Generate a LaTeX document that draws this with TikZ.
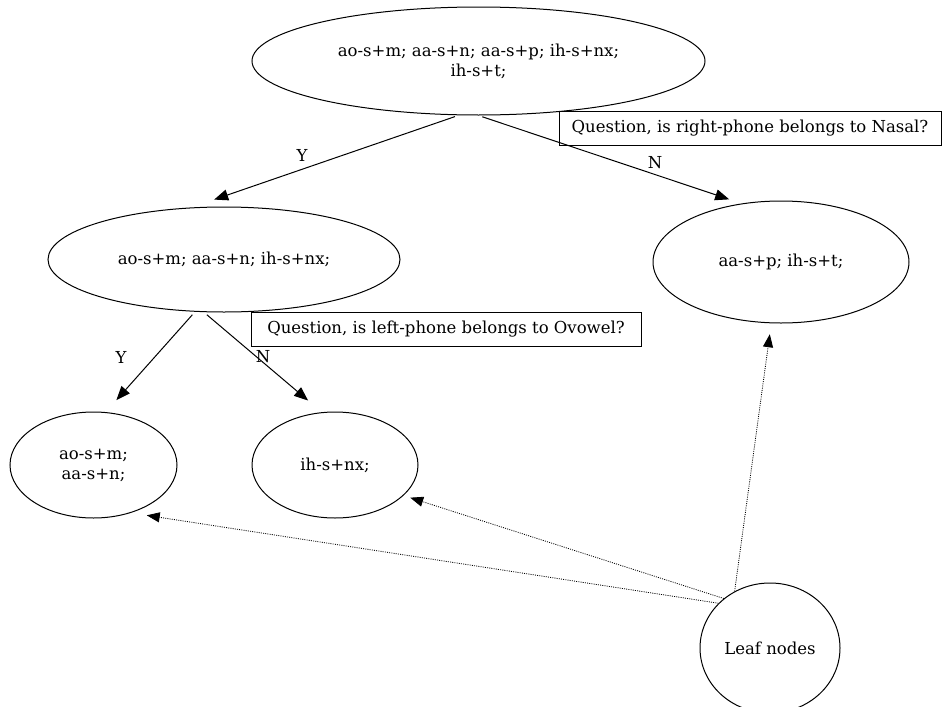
\documentclass[tikz,border=0pt]{standalone}
\usepackage{fontspec}
\setmainfont{DejaVu Serif}
\usetikzlibrary{arrows.meta,shapes.geometric}
\begin{document}
\begin{tikzpicture}[x=1pt,y=-1pt,
  every node/.style={font=\fontsize{16.5}{20}\selectfont},
  tnode/.style={draw,ellipse,line width=1pt,inner sep=0pt,align=center},
  qbox/.style={draw,rectangle,line width=1pt,inner sep=0pt},
  yes/.style={-{Triangle[length=14pt,width=11pt]},line width=1pt,shorten <=4pt},
  leafarrow/.style={-{Triangle[length=13pt,width=10pt]},line width=0.8pt,dash pattern=on 1pt off 1.2pt},
  lbl/.style={inner sep=0pt}]
\useasboundingbox (0,0) rectangle (943,707);

% tree nodes
\node[tnode,minimum width=453pt,minimum height=108pt] (top) at (478.5,61)
  {ao-s+m; aa-s+n; aa-s+p; ih-s+nx;\\ih-s+t;};
\node[tnode,minimum width=352pt,minimum height=105pt] (midl) at (224,259.5)
  {ao-s+m; aa-s+n; ih-s+nx;};
\node[tnode,minimum width=256pt,minimum height=122pt] (right) at (781,262)
  {aa-s+p; ih-s+t;};
\node[tnode,minimum width=167pt,minimum height=106pt] (bl) at (93.5,465)
  {ao-s+m;\\aa-s+n;};
\node[tnode,minimum width=166pt,minimum height=106pt] (bm) at (335,465)
  {ih-s+nx;};
\node[tnode,minimum width=140pt,minimum height=130pt] (leaf) at (770,648)
  {Leaf nodes};

% question boxes
\node[qbox,minimum width=382pt,minimum height=34pt] (q1) at (750,128)
  {Question, is right-phone belongs to Nasal?};
\node[qbox,minimum width=390pt,minimum height=34pt] (q2) at (446,329)
  {Question, is left-phone belongs to Ovowel?};

% decision edges
\draw[yes,shorten >=24pt] (top.250) -- (midl.122);
\draw[yes,shorten >=13pt] (top.270) -- (right.124);
\draw[yes,shorten >=16pt] (midl.241) -- (bl.77);
\draw[yes,shorten >=18pt] (midl.249) -- (bm.104);

% edge labels
\node[lbl] (ly1) at (302,155) {Y};
\node[lbl] (ln1) at (655,163) {N};
\node[lbl] (ly2) at (121,357) {Y};
\node[lbl] (ln2) at (263,357) {N};

% leaf pointers
\draw[leafarrow,shorten >=16pt] (leaf.139) -- (bl.308);
\draw[leafarrow,shorten >=7pt] (leaf.133) -- (bm.336);
\draw[leafarrow,shorten >=11pt] (leaf.122) -- (right.261);
\end{tikzpicture}
\end{document}
